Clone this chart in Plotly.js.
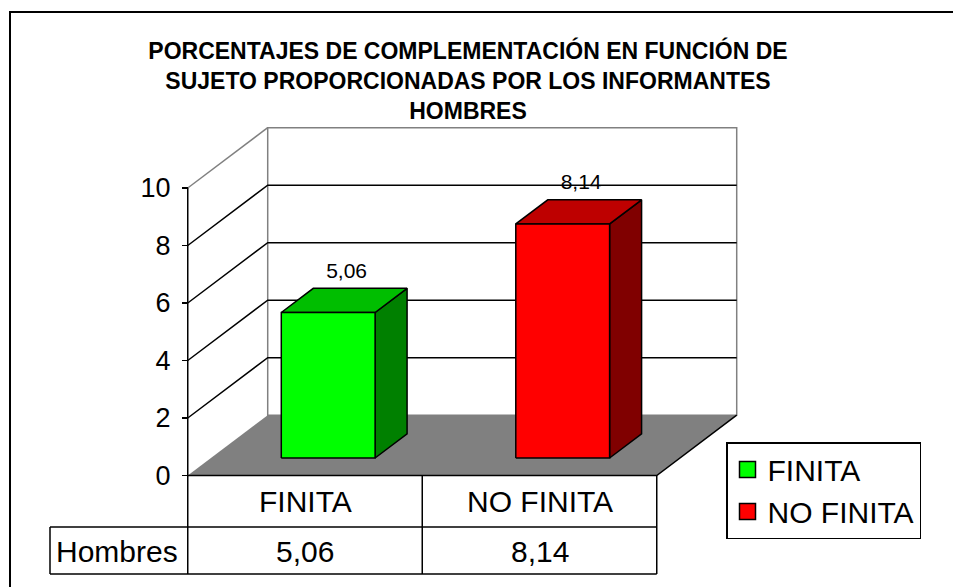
<!DOCTYPE html>
<html>
<head>
<meta charset="utf-8">
<script src="https://cdn.plot.ly/plotly-3.0.1.min.js"></script>
<style>html,body{margin:0;padding:0;background:#fff;}#chart{width:953px;height:587px;}</style>
</head>
<body>
<div id="chart"></div>
<script>
// ---- data ----
const categories = ['FINITA', 'NO FINITA'];
const values = [5.06, 8.14];
const seriesName = 'Hombres';
const yTickVals = [0, 2, 4, 6, 8, 10];
const titleLines = [
  'PORCENTAJES DE COMPLEMENTACIÓN EN FUNCIÓN DE',
  'SUJETO PROPORCIONADAS POR LOS INFORMANTES',
  'HOMBRES'
];

// ---- style / geometry ----
const FONT = 'Arial, "Liberation Sans", sans-serif';
const frontColors = ['#00FF00', '#FF0000'];
const sideColors = ['#008000', '#800000'];
const topColors = ['#00BE00', '#BE0000'];
const W = 953, H = 587;
const PX_PER_CAT = 234.5, CAT0_PX = 305;      // category centre positions
const ZERO_PX = 475.5, PX_PER_UNIT = 28.75;   // value scale
const DX = 0.341, DY = 2.1;                   // depth vector (axis units)
const D1 = 0.29, D2 = 0.69, HALF = 0.2;       // bar depth and half width
const YMAX = 10;
const TEXT_SIZE = 30;
const xr = [(0 - CAT0_PX) / PX_PER_CAT, (W - CAT0_PX) / PX_PER_CAT];
const yr = [(ZERO_PX - H) / PX_PER_UNIT, ZERO_PX / PX_PER_UNIT];
const xLeft = -0.5, xRight = categories.length - 0.5;
const py = px => 1 - px / H; // pixel row -> paper y

function P(x, v, d) { return [x + DX * d, v + DY * d]; }
function poly(pts) {
  const xs = pts.map(p => p[0]), ys = pts.map(p => p[1]);
  xs.push(xs[0]); ys.push(ys[0]);
  return {x: xs, y: ys};
}
function fmt(v) { return v.toFixed(2).replace('.', ','); }

const traces = [];
categories.forEach((c, i) => {
  const v = values[i];
  const side = poly([P(i + HALF, 0, D1), P(i + HALF, 0, D2), P(i + HALF, v, D2), P(i + HALF, v, D1)]);
  const top = poly([P(i - HALF, v, D1), P(i + HALF, v, D1), P(i + HALF, v, D2), P(i - HALF, v, D2)]);
  const front = poly([P(i - HALF, 0, D1), P(i + HALF, 0, D1), P(i + HALF, v, D1), P(i - HALF, v, D1)]);
  [[side, sideColors[i]], [top, topColors[i]], [front, frontColors[i]]].forEach(([f, col]) => {
    traces.push({
      type: 'scatter', mode: 'lines', x: f.x, y: f.y, fill: 'toself', fillcolor: col,
      line: {color: '#000', width: 1.5}, hoverinfo: 'skip', showlegend: false
    });
  });
});
// data labels
traces.push({
  type: 'scatter', mode: 'text',
  x: categories.map((c, i) => i + DX * 0.52),
  y: values.map(v => v + 2.0),
  text: values.map(fmt), textposition: 'middle center',
  textfont: {family: FONT, size: 21, color: '#000'},
  hoverinfo: 'skip', showlegend: false
});
// legend entries
categories.forEach((c, i) => {
  traces.push({
    type: 'scatter', mode: 'markers', x: [null], y: [null], name: c,
    marker: {symbol: 'square', size: 20, color: frontColors[i], line: {color: '#000', width: 1.5}}
  });
});

const shapes = [];
const GRAY = '#808080';
// back wall
const bw = [P(xLeft, 0, 1), P(xRight, 0, 1), P(xRight, YMAX, 1), P(xLeft, YMAX, 1)];
shapes.push({type: 'path', xref: 'x', yref: 'y', layer: 'below',
  path: 'M' + bw.map(p => p.join(',')).join('L') + 'Z',
  fillcolor: '#fff', line: {color: GRAY, width: 1.5}});
// gridlines back wall + side wall diagonals
yTickVals.forEach(t => {
  if (t === 0) return;
  const col = t === YMAX ? GRAY : '#000';
  const a = P(xLeft, t, 0), b = P(xLeft, t, 1), c = P(xRight, t, 1);
  shapes.push({type: 'path', xref: 'x', yref: 'y', layer: 'below',
    path: `M${a[0]},${a[1]}L${b[0]},${b[1]}` + (t === YMAX ? '' : `L${c[0]},${c[1]}`),
    line: {color: col, width: 1.5}});
});
// floor
const fl = [P(xLeft, 0, 0), P(xRight, 0, 0), P(xRight, 0, 1), P(xLeft, 0, 1)];
shapes.push({type: 'path', xref: 'x', yref: 'y', layer: 'below',
  path: 'M' + fl.map(p => p.join(',')).join('L') + 'Z',
  fillcolor: GRAY, line: {width: 0}});
shapes.push({type: 'path', xref: 'x', yref: 'y', layer: 'below',
  path: `M${fl[0][0]},${fl[0][1]}L${fl[1][0]},${fl[1][1]}L${fl[2][0]},${fl[2][1]}`,
  line: {color: '#000', width: 1.5}});
// front value axis line (continues as table edge)
const tableTop = py(ZERO_PX), tableMid = py(527), tableBot = py(574);
shapes.push({type: 'line', xref: 'x', yref: 'paper', x0: xLeft, x1: xLeft,
  y0: py(ZERO_PX - PX_PER_UNIT * YMAX), y1: tableBot, line: {color: '#000', width: 1.5}});
// data table lines
const rowLabelLeft = (50 - CAT0_PX) / PX_PER_CAT;
for (let k = 1; k <= categories.length; k++) {
  shapes.push({type: 'line', xref: 'x', yref: 'paper', x0: k - 0.5, x1: k - 0.5,
    y0: tableTop, y1: tableBot, line: {color: '#000', width: 1.5}});
}
[tableMid, tableBot].forEach(yy => shapes.push({type: 'line', xref: 'x', yref: 'paper',
  x0: rowLabelLeft, x1: xRight, y0: yy, y1: yy, line: {color: '#000', width: 1.5}}));
shapes.push({type: 'line', xref: 'x', yref: 'paper', x0: rowLabelLeft, x1: rowLabelLeft,
  y0: tableMid, y1: tableBot, line: {color: '#000', width: 1.5}});
// outer chart border
shapes.push({type: 'rect', xref: 'paper', yref: 'paper', x0: 10 / W, x1: 1.05, y0: -0.05, y1: py(12),
  line: {color: '#000', width: 2}, fillcolor: 'rgba(0,0,0,0)'});

const annotations = [];
categories.forEach((c, i) => {
  annotations.push({xref: 'x', yref: 'paper', x: i, y: py(501), text: c, showarrow: false,
    font: {family: FONT, size: TEXT_SIZE, color: '#000'}, xanchor: 'center', yanchor: 'middle'});
  annotations.push({xref: 'x', yref: 'paper', x: i, y: py(551), text: fmt(values[i]), showarrow: false,
    font: {family: FONT, size: TEXT_SIZE, color: '#000'}, xanchor: 'center', yanchor: 'middle'});
});
annotations.push({xref: 'paper', yref: 'paper', x: 117 / W, y: py(551), text: seriesName, showarrow: false,
  font: {family: FONT, size: TEXT_SIZE, color: '#000'}, xanchor: 'center', yanchor: 'middle'});

const layout = {
  width: W, height: H, autosize: false,
  margin: {l: 0, r: 0, t: 0, b: 0, pad: 0},
  paper_bgcolor: '#fff', plot_bgcolor: 'rgba(0,0,0,0)',
  title: {text: titleLines.join('<br>'), x: 468 / W, xanchor: 'center', y: py(59), yanchor: 'middle',
    font: {family: FONT, size: 23, color: '#000', weight: 'bold'}},
  xaxis: {range: xr, visible: false, fixedrange: true},
  yaxis: {range: yr, anchor: 'free', position: 188 / W, side: 'left',
    tickvals: yTickVals, ticktext: yTickVals.map(String),
    ticks: 'outside', ticklen: 6, tickwidth: 1.5, tickcolor: '#000', ticklabelstandoff: 6,
    showline: false, showgrid: false, zeroline: false, fixedrange: true,
    tickfont: {family: FONT, size: 27, color: '#000'}},
  showlegend: true,
  legend: {x: 726 / W, xanchor: 'left', y: py(442), yanchor: 'top',
    bgcolor: '#fff', bordercolor: '#000', borderwidth: 1.5,
    font: {family: FONT, size: TEXT_SIZE, color: '#000'}, tracegroupgap: 0},
  shapes: shapes, annotations: annotations
};

Plotly.newPlot('chart', traces, layout, {displayModeBar: false, staticPlot: true});
</script>
</body>
</html>
